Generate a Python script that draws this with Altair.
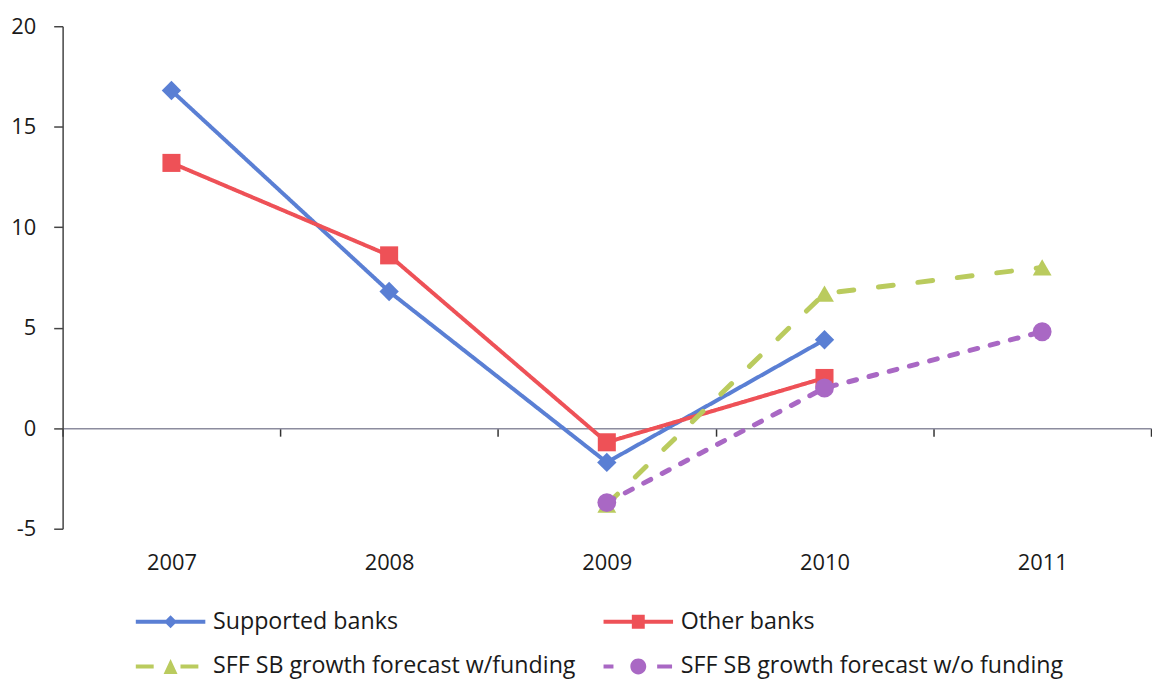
import altair as alt
import pandas as pd

years = ["2007", "2008", "2009", "2010", "2011"]
series = [
    "Supported banks",
    "Other banks",
    "SFF SB growth forecast w/funding",
    "SFF SB growth forecast w/o funding",
]
supported = [16.8, 6.8, -1.7, 4.4, None]
other = [13.2, 8.6, -0.7, 2.5, None]
with_funding = [None, None, -3.8, 6.7, 8.0]
without_funding = [None, None, -3.7, 2.0, 4.8]
y_ticks = [-5, 0, 5, 10, 15, 20]

COLORS = ["#5A7FD4", "#EE5157", "#BACB5E", "#A968C4"]
SHAPES = ["diamond", "square", "triangle-up", "circle"]
SIZES = [380, 330, 360, 360]
DASHES = [[1, 0], [1, 0], [15, 25], [8, 13]]
WIDTHS = [4, 4, 5, 5]
FONT = "Open Sans, sans-serif"

W, H = 1096, 506

# legend glyphs: line segment(s) + marker, drawn as one filled path
LEGEND_PATHS = [
    "M-3.5,-0.2H3.5V0.2H-3.5Z M0,-0.65L0.65,0L0,0.65L-0.65,0Z",
    "M-3.5,-0.2H3.5V0.2H-3.5Z M-0.65,-0.7H0.65V0.7H-0.65Z",
    "M-3.5,-0.2H-1.7V0.2H-3.5Z M1.0,-0.2H2.8V0.2H1.0Z M0,-0.75L0.7,0.75L-0.7,0.75Z",
    "M-3.5,-0.2H-2.5V0.2H-3.5Z M1.9,-0.2H3.4V0.2H1.9Z "
    "M-0.8,0A0.8,0.8 0 1,1 0.8,0A0.8,0.8 0 1,1 -0.8,0Z",
]
LEGEND_POS = [(72, 588), (543, 588), (72, 633), (543, 633)]

x = alt.X(
    "year:O",
    sort=years,
    scale=alt.Scale(domain=years, type="band", paddingInner=0, paddingOuter=0),
    bandPosition=0.5,
    axis=alt.Axis(
        title=None,
        tickBand="extent",
        offset=-H * 5 / 25,
        domainColor="#8c8c9e",
        domainWidth=1.5,
        tickColor="#333",
        tickSize=8,
        tickWidth=1.5,
        labelPadding=117,
        labelAngle=0,
        labelFont=FONT,
        labelFontSize=22,
        labelColor="#1a1a1a",
        grid=False,
    ),
)
y = alt.Y(
    "value:Q",
    scale=alt.Scale(domain=[-5, 20], nice=False, zero=False),
    axis=alt.Axis(
        title=None,
        values=y_ticks,
        labelExpr="'' + datum.value",
        grid=False,
        domainColor="#444",
        domainWidth=1.5,
        tickColor="#444",
        tickSize=9,
        tickWidth=1.5,
        labelPadding=18,
        labelFont=FONT,
        labelFontSize=22,
        labelColor="#1a1a1a",
    ),
)

layers = []
for i, (name, vals) in enumerate(zip(series, [supported, other, with_funding, without_funding])):
    df = pd.DataFrame({"year": years, "value": vals, "series": name}).dropna()
    lx, ly = LEGEND_POS[i]
    color = alt.Color(
        "series:N",
        scale=alt.Scale(domain=[name], range=[COLORS[i]]),
        legend=alt.Legend(
            title=None,
            orient="none",
            legendX=lx,
            legendY=ly,
            symbolType=LEGEND_PATHS[i],
            symbolSize=400,
            symbolOffset=25,
            symbolFillColor=COLORS[i],
            symbolStrokeColor=COLORS[i],
            symbolStrokeWidth=0,
            symbolOpacity=1,
            labelOffset=31,
            labelFont=FONT,
            labelFontSize=23.4,
            labelColor="#1a1a1a",
            labelLimit=600,
        ),
    )
    base = alt.Chart(df).encode(x=x, y=y, color=color)
    line = base.mark_line(strokeWidth=WIDTHS[i], strokeDash=DASHES[i], strokeCap="round")
    pts = base.mark_point(filled=True, opacity=1, size=SIZES[i], shape=SHAPES[i])
    layers.append(alt.layer(line, pts))

chart = (
    alt.layer(*layers)
    .resolve_scale(color="independent")
    .properties(width=W, height=H, padding={"left": 2, "top": 5, "right": 0, "bottom": 0})
    .configure_view(stroke=None)
)

chart.save("out.html", embed_options={"renderer": "svg", "actions": False})
